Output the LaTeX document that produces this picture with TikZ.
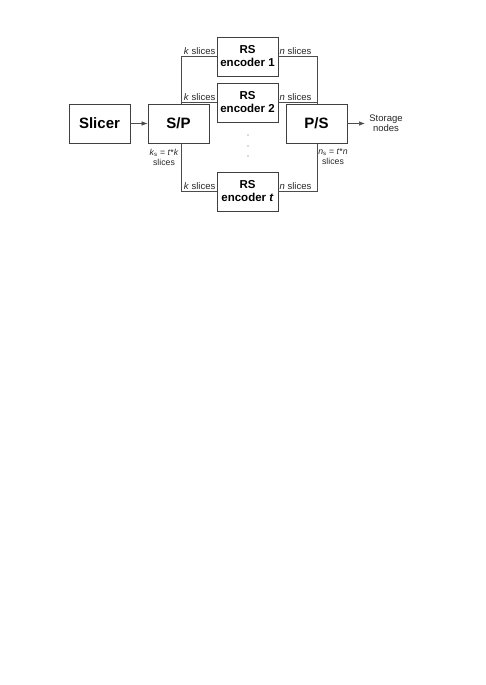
\documentclass[tikz,border=0pt]{standalone}
\usepackage{fontspec}
\setmainfont{Liberation Sans}
\usetikzlibrary{arrows.meta}
\begin{document}
\begin{tikzpicture}[x=1pt,y=-1pt,
  blk/.style={draw=black!75,line width=0.8pt,minimum width=61pt,minimum height=39pt,inner sep=0pt,align=center},
  big/.style={blk,font=\fontsize{15}{18}\selectfont\bfseries},
  enc/.style={blk,font=\fontsize{11.5}{13}\selectfont\bfseries},
  wire/.style={draw=black!70,line width=0.6pt},
  arr/.style={wire,-{Latex[length=6pt,width=4.5pt]}},
  lbl/.style={font=\fontsize{9.5}{10}\selectfont,inner sep=0pt,text=black!85},
  slbl/.style={font=\fontsize{8.7}{10}\selectfont,inner sep=0pt,align=center,text=black!85},
  dot/.style={circle,fill=black!60,inner sep=0pt,minimum size=1.4pt}]
\useasboundingbox (0,0) rectangle (485,685);
\node[big] (sl) at (99.5,123.5) {Slicer};
\node[big] (sp) at (178.5,123.5) {S/P};
\node[big] (ps) at (316.5,123.5) {P/S};
\node[enc] (e1) at (247.5,56.5) {RS\\encoder 1};
\node[enc] (e2) at (247.5,102.5) {RS\\encoder 2};
\node[enc] (et) at (247.5,191.5) {RS\\encoder \textit{t}};
\coordinate (spN) at (181,104);
\coordinate (spS) at (181,143);
\coordinate (psN) at (317,104);
\coordinate (psS) at (317,143);
\coordinate (out) at (365,123.5);
\node[lbl,align=center] (st) at (386,123) {Storage\\nodes};
\draw[arr] (sl) -- (sp);
\draw[arr] (ps.east) -- (out);
\draw[wire] (e1.west) -| (spN);
\draw[wire] (e2.west) -- (e2.west -| spN);
\draw[wire] (spS) |- (et.west);
\draw[wire] (e1.east) -| (psN);
\draw[wire] (e2.east) -- (e2.east -| psN);
\draw[wire] (psS) |- (et.east);
\node[lbl,anchor=base east] (k1) at (215.5,54.5) {\textit{k} slices};
\node[lbl,anchor=base east] (k2) at (215.5,100.5) {\textit{k} slices};
\node[lbl,anchor=base east] (kt) at (215.5,189) {\textit{k} slices};
\node[lbl,anchor=base west] (n1) at (279.5,54.5) {\textit{n} slices};
\node[lbl,anchor=base west] (n2) at (279.5,100.5) {\textit{n} slices};
\node[lbl,anchor=base west] (nt) at (279.5,189) {\textit{n} slices};
\node[slbl] (ks) at (164,157) {\textit{k}\textsubscript{s} = \textit{t}*\textit{k}\\slices};
\node[slbl] (ns) at (333,157) {\textit{n}\textsubscript{s} = \textit{t}*\textit{n}\\slices};
\node[dot] (d1) at (248,135) {};
\node[dot] (d2) at (248,146) {};
\node[dot] (d3) at (248,156) {};
\end{tikzpicture}
\end{document}
